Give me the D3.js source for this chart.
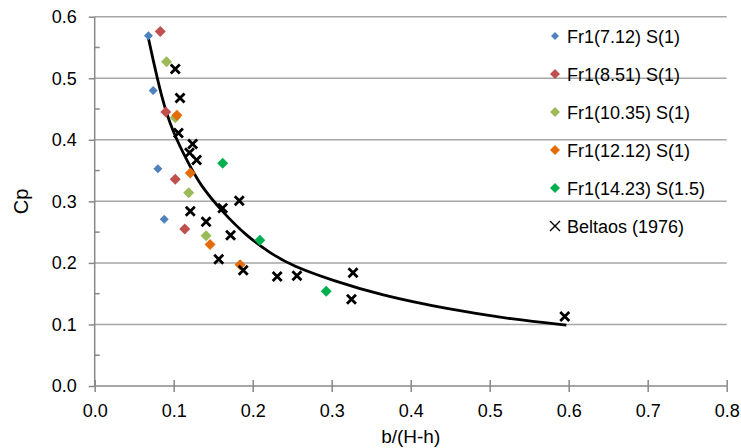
<!DOCTYPE html>
<html>
<head>
<meta charset="utf-8">
<script src="https://cdn.jsdelivr.net/npm/d3@7"></script>
<style>
    body { margin: 0; background: #fff; }
    svg { font-family: "Liberation Sans", Arial, sans-serif; }
</style>
</head>
<body>
<svg id="chart" width="741" height="448"></svg>
<script>
// Data
var seriesNames = ['Fr1(7.12) S(1)', 'Fr1(8.51) S(1)', 'Fr1(10.35) S(1)',
    'Fr1(12.12) S(1)', 'Fr1(14.23) S(1.5)', 'Beltaos (1976)'];

var fr712 = [[0.068, 0.569], [0.074, 0.480], [0.080, 0.353], [0.088, 0.271]];
var fr851 = [[0.083, 0.576], [0.090, 0.445], [0.102, 0.336], [0.114, 0.255]];
var fr1035 = [[0.091, 0.527], [0.102, 0.436], [0.119, 0.314], [0.141, 0.244]];
var fr1212 = [[0.104, 0.440], [0.121, 0.346], [0.146, 0.230], [0.184, 0.197]];
var fr1423 = [[0.162, 0.362], [0.209, 0.237], [0.293, 0.154]];
var beltaos = [[0.102, 0.515], [0.108, 0.468], [0.106, 0.411], [0.124, 0.393],
    [0.120, 0.379], [0.129, 0.367], [0.121, 0.284], [0.162, 0.289],
    [0.183, 0.301], [0.141, 0.267], [0.172, 0.245], [0.157, 0.206],
    [0.188, 0.188], [0.231, 0.178], [0.256, 0.179], [0.327, 0.184],
    [0.325, 0.141], [0.595, 0.113]];

// fitted trend line, traced point by point
var trend = [[0.068, 0.565], [0.085, 0.465], [0.0995, 0.411], [0.1165, 0.367],
    [0.133, 0.327], [0.163, 0.281], [0.192, 0.244], [0.222, 0.216],
    [0.250, 0.195], [0.302, 0.171], [0.361, 0.148], [0.446, 0.125],
    [0.530, 0.108], [0.597, 0.099]];

var xTicks = [0, 0.1, 0.2, 0.3, 0.4, 0.5, 0.6, 0.7, 0.8];
var yTicks = [0, 0.1, 0.2, 0.3, 0.4, 0.5, 0.6];
var yMinorTicks = [0.05, 0.15, 0.25, 0.35, 0.45, 0.55];

var colors = ['#4f81bd', '#c0504d', '#9bbb59', '#e46c0a', '#00b050'];
var diamondSeries = [fr712, fr851, fr1035, fr1212, fr1423];

var svg = d3.select('#chart');

var x = d3.scaleLinear().domain([0, 0.8]).range([94.7, 726.7]);
var y = d3.scaleLinear().domain([0, 0.6]).range([386, 16.7]);

var AXIS_COLOR = '#888';
var GRID_COLOR = '#a6a6a6';

// Gridlines
svg.append('g')
    .selectAll('line')
    .data(yTicks.slice(1))
    .enter().append('line')
    .attr('x1', x(0)).attr('x2', x(0.8))
    .attr('y1', function(d) { return y(d); })
    .attr('y2', function(d) { return y(d); })
    .style('stroke', GRID_COLOR)
    .style('stroke-width', 1.5);

// y axis
var yAxis = d3.axisLeft(y)
    .tickValues(yTicks)
    .tickSize(6)
    .tickPadding(12)
    .tickFormat(d3.format('.1f'));
var yAxisEl = svg.append('g')
    .attr('transform', 'translate(' + x(0) + ',0)')
    .call(yAxis);
yAxisEl.append('g')
    .selectAll('line')
    .data(yMinorTicks)
    .enter().append('line')
    .attr('x1', 0).attr('x2', 5)
    .attr('y1', function(d) { return y(d); })
    .attr('y2', function(d) { return y(d); })
    .style('stroke', AXIS_COLOR)
    .style('stroke-width', 1.5);

// x axis
var xAxis = d3.axisBottom(x)
    .tickValues(xTicks)
    .tickSize(6)
    .tickPadding(12)
    .tickFormat(d3.format('.1f'));
var xAxisEl = svg.append('g')
    .attr('transform', 'translate(0,' + y(0) + ')')
    .call(xAxis);
xAxisEl.selectAll('.tick line')
    .attr('y1', -6);

[yAxisEl, xAxisEl].forEach(function(el) {
    el.select('.domain')
        .attr('d', el === yAxisEl
            ? 'M0,' + y(0.6) + 'V' + y(0)
            : 'M' + x(0) + ',0H' + x(0.8))
        .style('stroke', AXIS_COLOR)
        .style('stroke-width', 1.5);
    el.selectAll('.tick line')
        .style('stroke', AXIS_COLOR)
        .style('stroke-width', 1.5);
    el.selectAll('.tick text')
        .style('font-size', '18px')
        .style('fill', '#000');
});

// Axis titles
svg.append('text')
    .attr('x', (x(0) + x(0.8)) / 2)
    .attr('y', 443)
    .attr('text-anchor', 'middle')
    .style('font-size', '19px')
    .text('b/(H-h)');
svg.append('text')
    .attr('transform', 'translate(28,' + ((y(0) + y(0.6)) / 2) + ') rotate(-90)')
    .attr('text-anchor', 'middle')
    .style('font-size', '20px')
    .text('Cp');

// Trend line
var line = d3.line()
    .x(function(d) { return x(d[0]); })
    .y(function(d) { return y(d[1]); })
    .curve(d3.curveBasis);
svg.append('path')
    .datum(trend)
    .attr('d', line)
    .style('fill', 'none')
    .style('stroke', '#000')
    .style('stroke-width', 2.8);

function diamond(r) {
    return 'M0,' + (-r) + 'L' + r + ',0L0,' + r + 'L' + (-r) + ',0Z';
}
function cross(r) {
    return 'M' + (-r) + ',' + (-r) + 'L' + r + ',' + r +
        'M' + (-r) + ',' + r + 'L' + r + ',' + (-r);
}

// Diamond series
diamondSeries.forEach(function(data, i) {
    svg.append('g')
        .selectAll('path')
        .data(data)
        .enter().append('path')
        .attr('transform', function(d) { return 'translate(' + x(d[0]) + ',' + y(d[1]) + ')'; })
        .attr('d', diamond(i === 0 ? 4.5 : 5.5))
        .style('fill', colors[i]);
});

// Beltaos crosses
svg.append('g')
    .selectAll('path')
    .data(beltaos)
    .enter().append('path')
    .attr('transform', function(d) { return 'translate(' + x(d[0]) + ',' + y(d[1]) + ')'; })
    .attr('d', cross(4.5))
    .style('fill', 'none')
    .style('stroke', '#000')
    .style('stroke-width', 2.8);

// Legend
var legend = svg.append('g')
    .selectAll('g')
    .data(seriesNames)
    .enter().append('g')
    .attr('transform', function(d, i) { return 'translate(555,' + (36 + i * 38) + ')'; });
legend.append('path')
    .attr('d', function(d, i) {
        if (i === 5) return cross(5);
        return diamond(i === 0 ? 4 : 5);
    })
    .style('fill', function(d, i) { return i < 5 ? colors[i] : 'none'; })
    .style('stroke', function(d, i) { return i === 5 ? '#000' : 'none'; })
    .style('stroke-width', 1.4);
legend.append('text')
    .attr('x', 12)
    .attr('y', 6.5)
    .style('font-size', '18px')
    .text(function(d) { return d; });
</script>
</body>
</html>
